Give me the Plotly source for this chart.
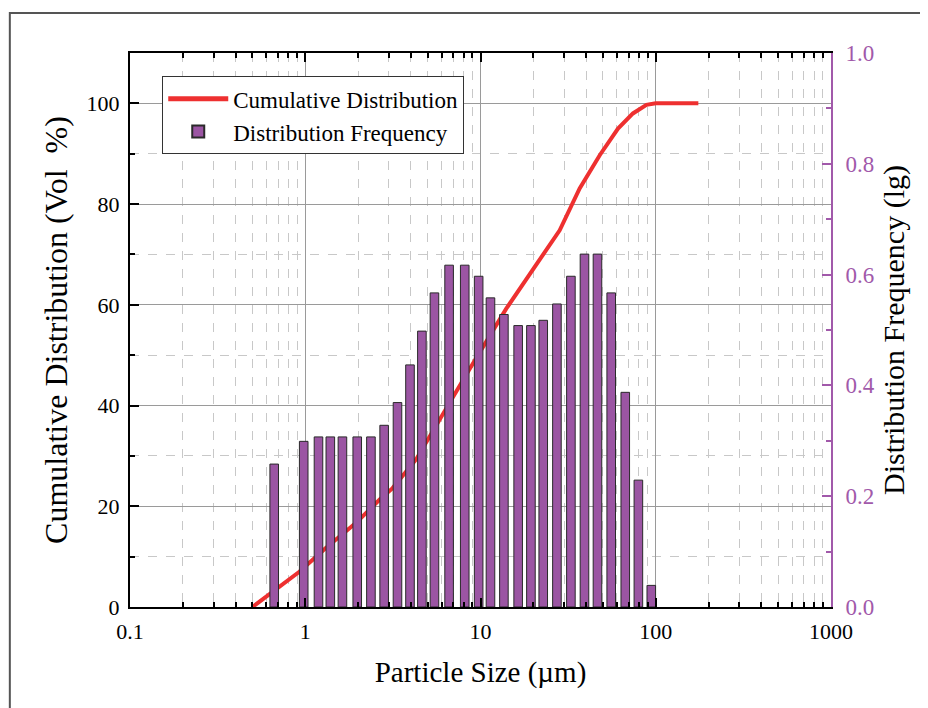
import plotly.graph_objects as go

# ---- data ----
bar_sizes = [0.665, 0.98, 1.19, 1.39, 1.63, 1.98, 2.37, 2.82, 3.36, 3.96, 4.63, 5.46,
             6.62, 8.13, 9.76, 11.4, 13.6, 16.4, 19.4, 22.8, 27.3, 32.8, 39.2, 46.5,
             55.7, 67.0, 79.6, 94.3]
bar_freq = [0.258, 0.299, 0.307, 0.307, 0.307, 0.307, 0.307, 0.328, 0.369, 0.437, 0.498, 0.567,
            0.617, 0.617, 0.597, 0.558, 0.528, 0.508, 0.508, 0.5175, 0.547, 0.597, 0.637, 0.637,
            0.567, 0.3875, 0.229, 0.039]

cum_sizes = [0.50, 0.925, 1.31, 1.95, 2.65, 3.15, 4.29, 5.83, 8.65, 14.0, 21.7, 28.3,
             36.8, 47.9, 60.9, 74.1, 88.5, 100, 175]
cum_values = [0, 7.0, 11.7, 16.7, 21.3, 23.6, 29.3, 37.3, 47.2, 59.2, 69.1, 74.8,
              83.1, 89.7, 95.0, 98.0, 99.7, 100, 100]

x_title = "Particle Size (µm)"
y_title = "Cumulative Distribution (Vol  %)"
y2_title = "Distribution Frequency (lg)"

# ---- styling ----
FONT = "Liberation Serif, Times New Roman, serif"
PURPLE = "#9B55A3"
AXPURPLE = "#A159AA"
RED = "#EE3030"
half = 0.0245  # half bar width in decades (constant pixel width on log axis)
bar_offset = [x * 10 ** (-half) - x for x in bar_sizes]
bar_width = [x * (10 ** half - 10 ** (-half)) for x in bar_sizes]

fig = go.Figure()
fig.add_trace(go.Bar(
    x=bar_sizes, y=bar_freq, yaxis="y2", name="Distribution Frequency",
    width=bar_width, offset=bar_offset,
    marker=dict(color=PURPLE, line=dict(color="#2a2a2a", width=1)),
    legendrank=2,
))
fig.add_trace(go.Scatter(
    x=cum_sizes, y=cum_values, mode="lines", name="Cumulative Distribution",
    line=dict(color=RED, width=4), legendrank=1,
))

fig.update_layout(
    width=920, height=700,
    margin=dict(l=122, r=97, t=45, b=101, autoexpand=False),
    paper_bgcolor="white", plot_bgcolor="white",
    font=dict(family=FONT, size=22, color="black"),
    showlegend=True,
    legend=dict(x=0.046, y=0.958, xanchor="left", yanchor="top",
                bordercolor="#333", borderwidth=1, bgcolor="white",
                font=dict(size=23), itemwidth=60, tracegroupgap=0,
                itemsizing="constant"),
    xaxis=dict(
        type="log", range=[-1, 3], dtick=1, automargin=False,
        showline=True, linecolor="black", linewidth=2, mirror="ticks",
        ticks="inside", ticklen=9, tickwidth=1.5, tickcolor="black",
        showgrid=True, gridcolor="#9a9a9a", gridwidth=1,
        minor=dict(dtick="D1", ticks="inside", ticklen=5, tickcolor="black",
                   showgrid=True, gridcolor="#c8c8c8", griddash="dash", gridwidth=1),
        title=dict(text=x_title, font=dict(size=29), standoff=18),
        tickfont=dict(size=22), ticklabelstandoff=4, zeroline=False,
    ),
    yaxis=dict(
        range=[0, 110], dtick=20, tick0=0, automargin=False,
        showline=True, linecolor="black", linewidth=2,
        ticks="inside", ticklen=9, tickwidth=1.5, tickcolor="black",
        showgrid=True, gridcolor="#9a9a9a", gridwidth=1,
        minor=dict(dtick=10, ticks="inside", ticklen=5, tickcolor="black",
                   showgrid=True, gridcolor="#c8c8c8", griddash="dash", gridwidth=1),
        title=dict(text=y_title, font=dict(size=32), standoff=9),
        tickfont=dict(size=22), ticklabelstandoff=4, zeroline=False,
    ),
    yaxis2=dict(
        overlaying="y", side="right", range=[0, 1.0], dtick=0.2, tick0=0,
        tickformat=".1f", automargin=False,
        showline=True, linecolor=AXPURPLE, linewidth=2,
        ticks="inside", ticklen=9, tickwidth=1.5, tickcolor=AXPURPLE,
        minor=dict(dtick=0.1, ticks="inside", ticklen=5, tickcolor=AXPURPLE),
        showgrid=False, zeroline=False,
        tickfont=dict(size=23, color=AXPURPLE), ticklabelstandoff=8,
        title=dict(text=y2_title, font=dict(size=30, color="black"), standoff=9),
    ),
    shapes=[dict(type="rect", xref="paper", yref="paper",
                 x0=(10 - 130) / 700, x1=1.5, y0=(607 - 13) / 554, y1=-0.5,
                 line=dict(color="#555", width=2), fillcolor="rgba(0,0,0,0)",
                 layer="below")],
)

fig.write_html("out.html")
